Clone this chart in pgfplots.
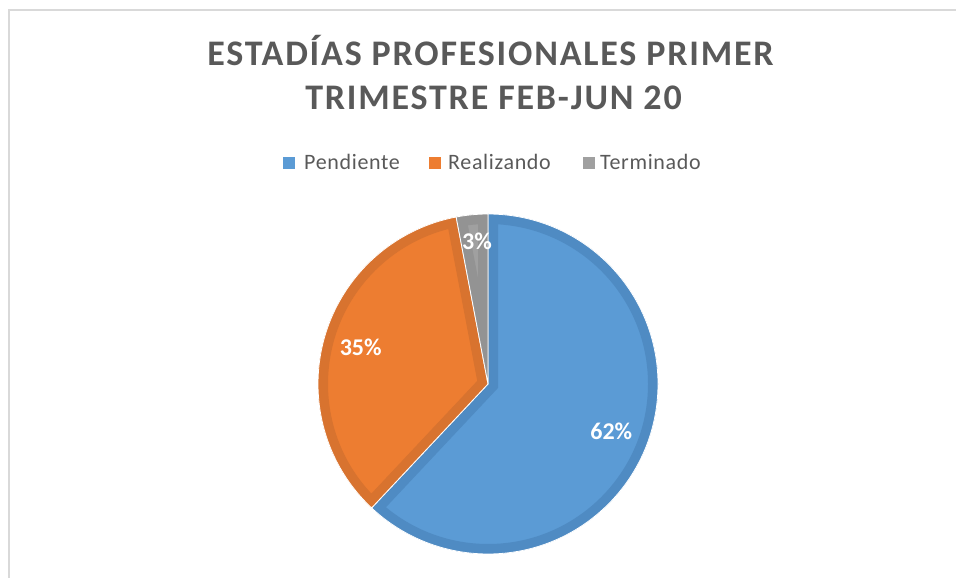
\documentclass[border=0pt]{standalone}
\usepackage{pgfplots}
\pgfplotsset{compat=1.18}
\usepackage{pgfplotstable}
\usepackage{fontspec}
\setmainfont{Carlito}
\newfontfamily\titlefont[LetterSpace=5]{Carlito}
\newfontfamily\legendfont[LetterSpace=3]{Carlito}

\definecolor{pendfill}{HTML}{5B9BD5}
\definecolor{pendedge}{HTML}{4F8BC3}
\definecolor{realfill}{HTML}{ED7D31}
\definecolor{realedge}{HTML}{D8732F}
\definecolor{termfill}{HTML}{A0A0A0}
\definecolor{termedge}{HTML}{939393}
\definecolor{txtgrey}{HTML}{595959}
\definecolor{framegrey}{HTML}{D9D9D9}

% share of each state (percent)
\pgfplotstableread{
label      value
Pendiente  62
Realizando 35
Terminado  3
}\piedata

\pgfplotstablegetelem{0}{value}\of\piedata \let\vA\pgfplotsretval
\pgfplotstablegetelem{1}{value}\of\piedata \let\vB\pgfplotsretval
\pgfplotstablegetelem{2}{value}\of\piedata \let\vC\pgfplotsretval

% start at 12 o'clock, clockwise
\pgfmathsetmacro\aA{90}
\pgfmathsetmacro\aB{\aA-3.6*\vA}
\pgfmathsetmacro\aC{\aB-3.6*\vB}
\pgfmathsetmacro\aD{\aC-3.6*\vC}
\pgfmathsetmacro\mA{(\aA+\aB)/2}
\pgfmathsetmacro\mB{(\aB+\aC)/2}

\newcommand\R{170pt}
\newcommand\wedgepath[2]{(axis cs:0,0) -- (axis cs:{cos(#1)},{sin(#1)}) arc[start angle=#1, end angle=#2, radius=\R] -- cycle}
\newcommand\slice[4]{%
  \fill[#3] \wedgepath{#1}{#2};
  \begin{scope}
    \clip \wedgepath{#1}{#2};
    \draw[#4, line width=20pt, line join=miter] \wedgepath{#1}{#2};
  \end{scope}
  \draw[white, line width=0.8pt] \wedgepath{#1}{#2};
}

\begin{document}
\begin{tikzpicture}
\begin{axis}[
    hide axis,
    scale only axis,
    x=170pt, y=170pt,
    xmin=-2.870588, xmax=2.752941,
    ymin=-1.141176, ymax=2.258824,
    clip=false,
]
% frame
\draw[framegrey, line width=1.2pt]
    (rel axis cs:0.0094,0) -- (rel axis cs:0.0094,0.9827) -- (rel axis cs:1,0.9827);

% slices
\slice{\aA}{\aB}{pendfill}{pendedge}
\slice{\aB}{\aC}{realfill}{realedge}
\slice{\aC}{\aD}{termfill}{termedge}

% data labels
\node[white, font=\fontsize{24}{24}\selectfont\bfseries]
    at (axis cs:{0.78*cos(\mA)},{0.78*sin(\mA)+0.01}) {\vA\%};
\node[white, font=\fontsize{24}{24}\selectfont\bfseries]
    at (axis cs:{0.78*cos(\mB)},{0.78*sin(\mB)}) {\vB\%};
\node[white, font=\fontsize{24}{24}\selectfont\bfseries]
    at (axis cs:-0.065,0.84) {\vC\%};

% title
\node[txtgrey, anchor=base, inner sep=0pt, font=\titlefont\fontsize{36}{36}\selectfont\bfseries]
    at (rel axis cs:0.5131,0.8875) {ESTADÍAS PROFESIONALES PRIMER};
\node[txtgrey, anchor=base, inner sep=0pt, font=\titlefont\fontsize{36}{36}\selectfont\bfseries]
    at (rel axis cs:0.5162,0.8114) {TRIMESTRE FEB-JUN 20};

% legend
\fill[pendfill] (rel axis cs:0.2960,0.7284) rectangle (rel axis cs:0.3086,0.7076);
\node[txtgrey, anchor=base west, inner sep=0pt, font=\legendfont\fontsize{22}{22}\selectfont]
    at (rel axis cs:0.3180,0.7059) {Pendiente};
\fill[realfill] (rel axis cs:0.4487,0.7284) rectangle (rel axis cs:0.4613,0.7076);
\node[txtgrey, anchor=base west, inner sep=0pt, font=\legendfont\fontsize{22}{22}\selectfont]
    at (rel axis cs:0.4686,0.7059) {Realizando};
\fill[termfill] (rel axis cs:0.6098,0.7284) rectangle (rel axis cs:0.6224,0.7076);
\node[txtgrey, anchor=base west, inner sep=0pt, font=\legendfont\fontsize{22}{22}\selectfont]
    at (rel axis cs:0.6276,0.7059) {Terminado};
\end{axis}
\pgfresetboundingbox
\path (current axis.south west) rectangle (current axis.north east);
\end{tikzpicture}
\end{document}
